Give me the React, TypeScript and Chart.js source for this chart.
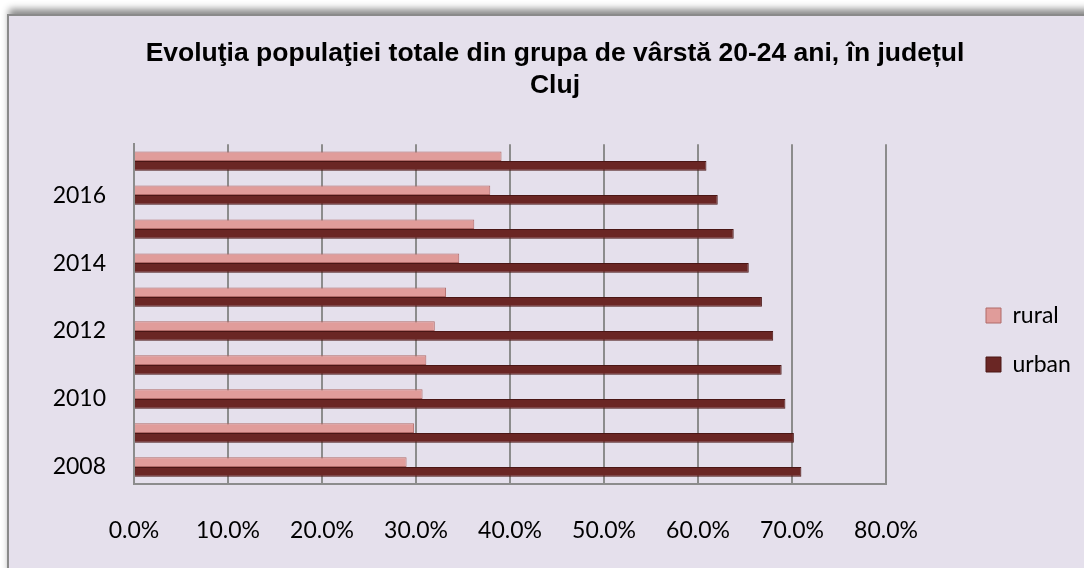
import React, { useEffect, useRef } from "react";
import { Chart, registerables } from "chart.js";

Chart.register(...registerables);

const years = ["2008", "2009", "2010", "2011", "2012", "2013", "2014", "2015", "2016", "2017"];
const rural = [29.0, 29.8, 30.7, 31.1, 32.0, 33.2, 34.6, 36.2, 37.9, 39.1];
const urban = [71.0, 70.2, 69.3, 68.9, 68.0, 66.8, 65.4, 63.8, 62.1, 60.9];
const xTicks = [0, 10, 20, 30, 40, 50, 60, 70, 80];
const titleLines = ["Evoluţia populaţiei totale din grupa de vârstă 20-24 ani, în județul", "Cluj"];
const seriesNames = ["rural", "urban"];

const BG = "#E5E0EC";
const GRID = "#8C8C8C";

export default function App() {
  const ref = useRef<HTMLCanvasElement | null>(null);

  useEffect(() => {
    if (!ref.current) return;
    const labels = [...years].reverse();
    const chart = new Chart(ref.current, {
      type: "bar",
      data: {
        labels,
        datasets: [
          {
            label: seriesNames[0],
            data: [...rural].reverse(),
            backgroundColor: "#E09C9A",
            borderColor: "#B06A68",
            borderWidth: 1,
          },
          {
            label: seriesNames[1],
            data: [...urban].reverse(),
            backgroundColor: "#6A2624",
            borderColor: "#4A1615",
            borderWidth: 1,
          },
        ],
      },
      options: {
        indexAxis: "y",
        responsive: false,
        animation: false,
        devicePixelRatio: 1,
        datasets: { bar: { categoryPercentage: 0.57, barPercentage: 1.0 } },
        layout: { padding: { left: 40, right: 0, top: 0, bottom: 0 } },
        plugins: {
          title: {
            display: true,
            text: titleLines,
            color: "#000",
            font: { family: "'Liberation Sans', Arial, sans-serif", size: 26.5, weight: "bold", lineHeight: 1.21 },
            padding: { top: 38, bottom: 42 },
          },
          legend: {
            display: true,
            position: "right",
            maxWidth: 110,
            labels: {
              boxWidth: 15,
              boxHeight: 15,
              padding: 26,
              color: "#000",
              font: { family: "Lato, 'Open Sans', sans-serif", size: 23 },
            },
          },
          tooltip: { enabled: false },
        },
        scales: {
          x: {
            type: "linear",
            min: xTicks[0],
            max: xTicks[xTicks.length - 1],
            afterBuildTicks: (scale: any) => {
              scale.ticks = xTicks.map((v) => ({ value: v }));
            },
            afterFit: (scale: any) => {
              scale.height = 196;
            },
            grid: { color: GRID, lineWidth: 2, drawTicks: false },
            border: { display: true, color: GRID, width: 2 },
            ticks: {
              padding: 33,
              color: "#000",
              font: { family: "Lato, 'Open Sans', sans-serif", size: 23 },
              callback: (v: any) => Number(v).toFixed(1) + "%",
            },
          },
          y: {
            type: "category",
            afterFit: (scale: any) => {
              scale.width = 94;
            },
            grid: { display: false, drawTicks: false },
            border: { display: true, color: GRID, width: 2 },
            ticks: {
              padding: 28,
              autoSkip: false,
              color: "#000",
              font: { family: "Lato, 'Open Sans', sans-serif", size: 23 },
              callback: function (this: any, v: any) {
                const y = this.getLabelForValue(v);
                return Number(y) % 2 === 0 ? y : "";
              },
            },
          },
          pad: {
            type: "linear",
            position: "right",
            display: true,
            grid: { display: false, drawTicks: false },
            border: { display: false },
            ticks: { display: false },
            afterFit: (scale: any) => {
              scale.width = 74;
            },
          },
        },
      } as any,
    });
    return () => chart.destroy();
  }, []);

  return (
    <div
      style={{
        position: "fixed",
        left: 0,
        top: 0,
        width: 1084,
        height: 568,
        overflow: "hidden",
        background: "#ffffff",
      }}
    >
      <div
        style={{
          position: "absolute",
          left: 7,
          top: 14,
          width: 1120,
          height: 600,
          background: BG,
          borderLeft: "2px solid #8A8A8A",
          borderTop: "2px solid #8A8A8A",
          boxShadow: "2px -5px 7px rgba(0,0,0,0.45)",
        }}
      />
      <canvas
        ref={ref}
        width={1070}
        height={680}
        style={{ position: "absolute", left: 0, top: 0, width: 1070, height: 680 }}
      />
    </div>
  );
}
